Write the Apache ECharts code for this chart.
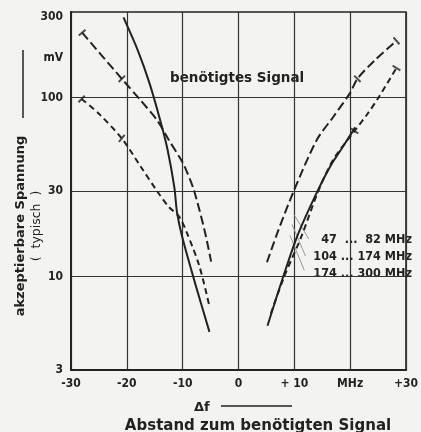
<!DOCTYPE html>
<html>
<head>
<meta charset="utf-8">
<script src="https://cdn.jsdelivr.net/npm/echarts@6/dist/echarts.min.js"></script>
<style>
html,body{margin:0;padding:0;background:#f3f3f1;}
#c{width:421px;height:432px;}
</style>
</head>
<body>
<div id="c"></div>
<script>
// ---- data (MHz offset, mV) ----
const xTicks = [-30, -20, -10, 0, 10, 20, 30];
const xTickLabels = ['-30', '-20', '-10', '0', '+ 10', 'MHz', '+30'];
const yGridValues = [10, 30, 100];
const yLabelValues = [3, 10, 30, 100, 167, 300];
const yLabelTexts = ['3', '10', '30', '100', 'mV', '{top|300}'];

// left side (below wanted signal)
const leftSolid = [[-20.6, 280], [-18.0, 182], [-15.9, 119], [-14.0, 74], [-12.7, 51], [-11.5, 31.6], [-11.0, 22.7], [-10.1, 16.7], [-7.7, 9.0], [-5.2, 4.9]];
const leftLongDash = [[-28.0, 230], [-20.9, 127], [-17.5, 96], [-14.5, 74], [-12.5, 58], [-10.5, 46], [-9.6, 40.8], [-8.0, 30.4], [-6.1, 18.2], [-4.9, 12.1]];
const leftShortDash = [[-28.1, 98], [-25.0, 81], [-20.9, 59], [-17.5, 41], [-14.5, 29.7], [-12.5, 24.5], [-10.6, 21.5], [-9.2, 17.4], [-7.0, 11.4], [-5.2, 6.8]];
// right side (above wanted signal)
const rightLongDash = [[5.1, 12.0], [7.0, 17.6], [9.9, 30], [14.0, 57.7], [17.0, 78], [20.0, 106], [21.3, 127], [24.5, 162], [28.3, 207]];
const rightSolid = [[5.2, 5.3], [7.7, 9.3], [10.5, 16.7], [14.0, 29.3], [16.6, 42], [18.7, 53], [20.9, 68]];
const rightShortDash = [[5.8, 6.2], [8.2, 10.0], [11.2, 16.5], [14.3, 30], [17.0, 45], [20.8, 65], [23.0, 80], [25.1, 100], [28.3, 146]];

// small cross ticks on curves: [x, y, rotation]
const curveTicks = [[-28.0, 230, -49], [-20.9, 127, -45], [-28.1, 98, -44], [-20.9, 59, -40], [28.3, 207, 41], [21.3, 127, 45], [28.3, 146, 59], [20.8, 65, 55]];

// leader lines to band labels
const leaders = [
  [[10.0, 22.0], [12.6, 16.2]],
  [[9.6, 19.5], [12.0, 13.0]],
  [[9.2, 17.0], [11.8, 10.8]]
];
const bandLabels = ['47  ...  82 MHz', '104 ... 174 MHz', '174 ... 300 MHz'];

const ink = '#222';
const fontC = '"DejaVu Sans Condensed", "DejaVu Sans", sans-serif';
const fontW = '"DejaVu Sans", sans-serif';

const chart = echarts.init(document.getElementById('c'), null, {renderer: 'canvas'});

function curve(name, data, type) {
  return {
    name: name, type: 'line', data: data, smooth: 0.3, symbol: 'none',
    lineStyle: {color: ink, width: 2, type: type},
    z: 5, silent: true
  };
}

const series = [
  curve('links 1', leftSolid, 'solid'),
  curve('links 2', leftLongDash, [9, 4]),
  curve('links 3', leftShortDash, [6, 4]),
  curve('rechts 1', rightLongDash, [9, 4]),
  curve('rechts 2', rightSolid, 'solid'),
  curve('rechts 3', rightShortDash, [6, 4]),
  {
    type: 'scatter', silent: true, z: 6,
    data: curveTicks.map(t => ({value: [t[0], t[1]], symbolRotate: t[2]})),
    symbol: 'rect', symbolSize: [2, 9], itemStyle: {color: ink}
  }
];
leaders.forEach(l => series.push({
  type: 'line', data: l, symbol: 'none', silent: true, z: 4,
  lineStyle: {color: '#999', width: 1}
}));

chart.setOption({
  backgroundColor: '#f3f3f1',
  animation: false,
  grid: {left: 71, right: 6, top: 12, bottom: 62, show: true, borderColor: ink, borderWidth: 1.5},
  xAxis: {
    type: 'value', min: -30, max: 30, interval: 10,
    axisLine: {show: true, onZero: false, lineStyle: {color: ink, width: 2}},
    axisTick: {show: false},
    splitLine: {show: true, lineStyle: {color: '#333', width: 1.2}},
    axisLabel: {
      margin: 8, color: ink, fontFamily: fontC, fontWeight: 'bold', fontSize: 12,
      formatter: v => xTickLabels[xTicks.indexOf(v)]
    }
  },
  yAxis: {
    type: 'log', logBase: 10, min: 3, max: 300,
    axisLine: {show: true, onZero: false, lineStyle: {color: ink, width: 2}},
    axisTick: {show: false, customValues: yGridValues},
    minorTick: {show: false}, minorSplitLine: {show: false},
    splitLine: {show: true, lineStyle: {color: '#333', width: 1.2}},
    axisLabel: {
      customValues: yLabelValues, margin: 8, color: ink, fontFamily: fontC, fontWeight: 'bold', fontSize: 12,
      rich: {top: {padding: [10, 0, 0, 0], fontFamily: fontC, fontWeight: 'bold', fontSize: 12, color: ink}},
      formatter: v => {
        let best = 0, d = Infinity;
        yLabelValues.forEach((u, i) => { const e = Math.abs(Math.log(u) - Math.log(v)); if (e < d) { d = e; best = i; } });
        return yLabelTexts[best];
      }
    }
  },
  series: series,
  graphic: [
    {type: 'text', x: 170, y: 78, style: {text: 'benötigtes Signal', font: 'bold 13.5px ' + fontW, fill: ink, verticalAlign: 'middle'}},
    {type: 'text', x: 412, y: 240, style: {text: bandLabels[0], font: 'bold 12.5px ' + fontC, fill: ink, align: 'right', verticalAlign: 'middle'}},
    {type: 'text', x: 412, y: 257, style: {text: bandLabels[1], font: 'bold 12.5px ' + fontC, fill: ink, align: 'right', verticalAlign: 'middle'}},
    {type: 'text', x: 412, y: 274, style: {text: bandLabels[2], font: 'bold 12.5px ' + fontC, fill: ink, align: 'right', verticalAlign: 'middle'}},
    {type: 'text', x: 21, y: 226, rotation: Math.PI / 2, style: {text: 'akzeptierbare Spannung', font: 'bold 13px ' + fontW, fill: ink, align: 'center', verticalAlign: 'middle'}},
    {type: 'text', x: 37, y: 226, rotation: Math.PI / 2, style: {text: '(  typisch  )', font: '12.5px ' + fontW, fill: ink, align: 'center', verticalAlign: 'middle'}},
    {type: 'line', shape: {x1: 23, y1: 50, x2: 23, y2: 118}, style: {stroke: ink, lineWidth: 1.5}},
    {type: 'text', x: 194, y: 408, style: {text: 'Δf', font: 'bold 13px ' + fontW, fill: ink, verticalAlign: 'middle'}},
    {type: 'line', shape: {x1: 221, y1: 406, x2: 292, y2: 406}, style: {stroke: ink, lineWidth: 1.5}},
    {type: 'text', x: 258, y: 426, style: {text: 'Abstand zum benötigten Signal', font: 'bold 15px ' + fontW, fill: ink, align: 'center', verticalAlign: 'middle'}}
  ]
});
</script>
</body>
</html>
